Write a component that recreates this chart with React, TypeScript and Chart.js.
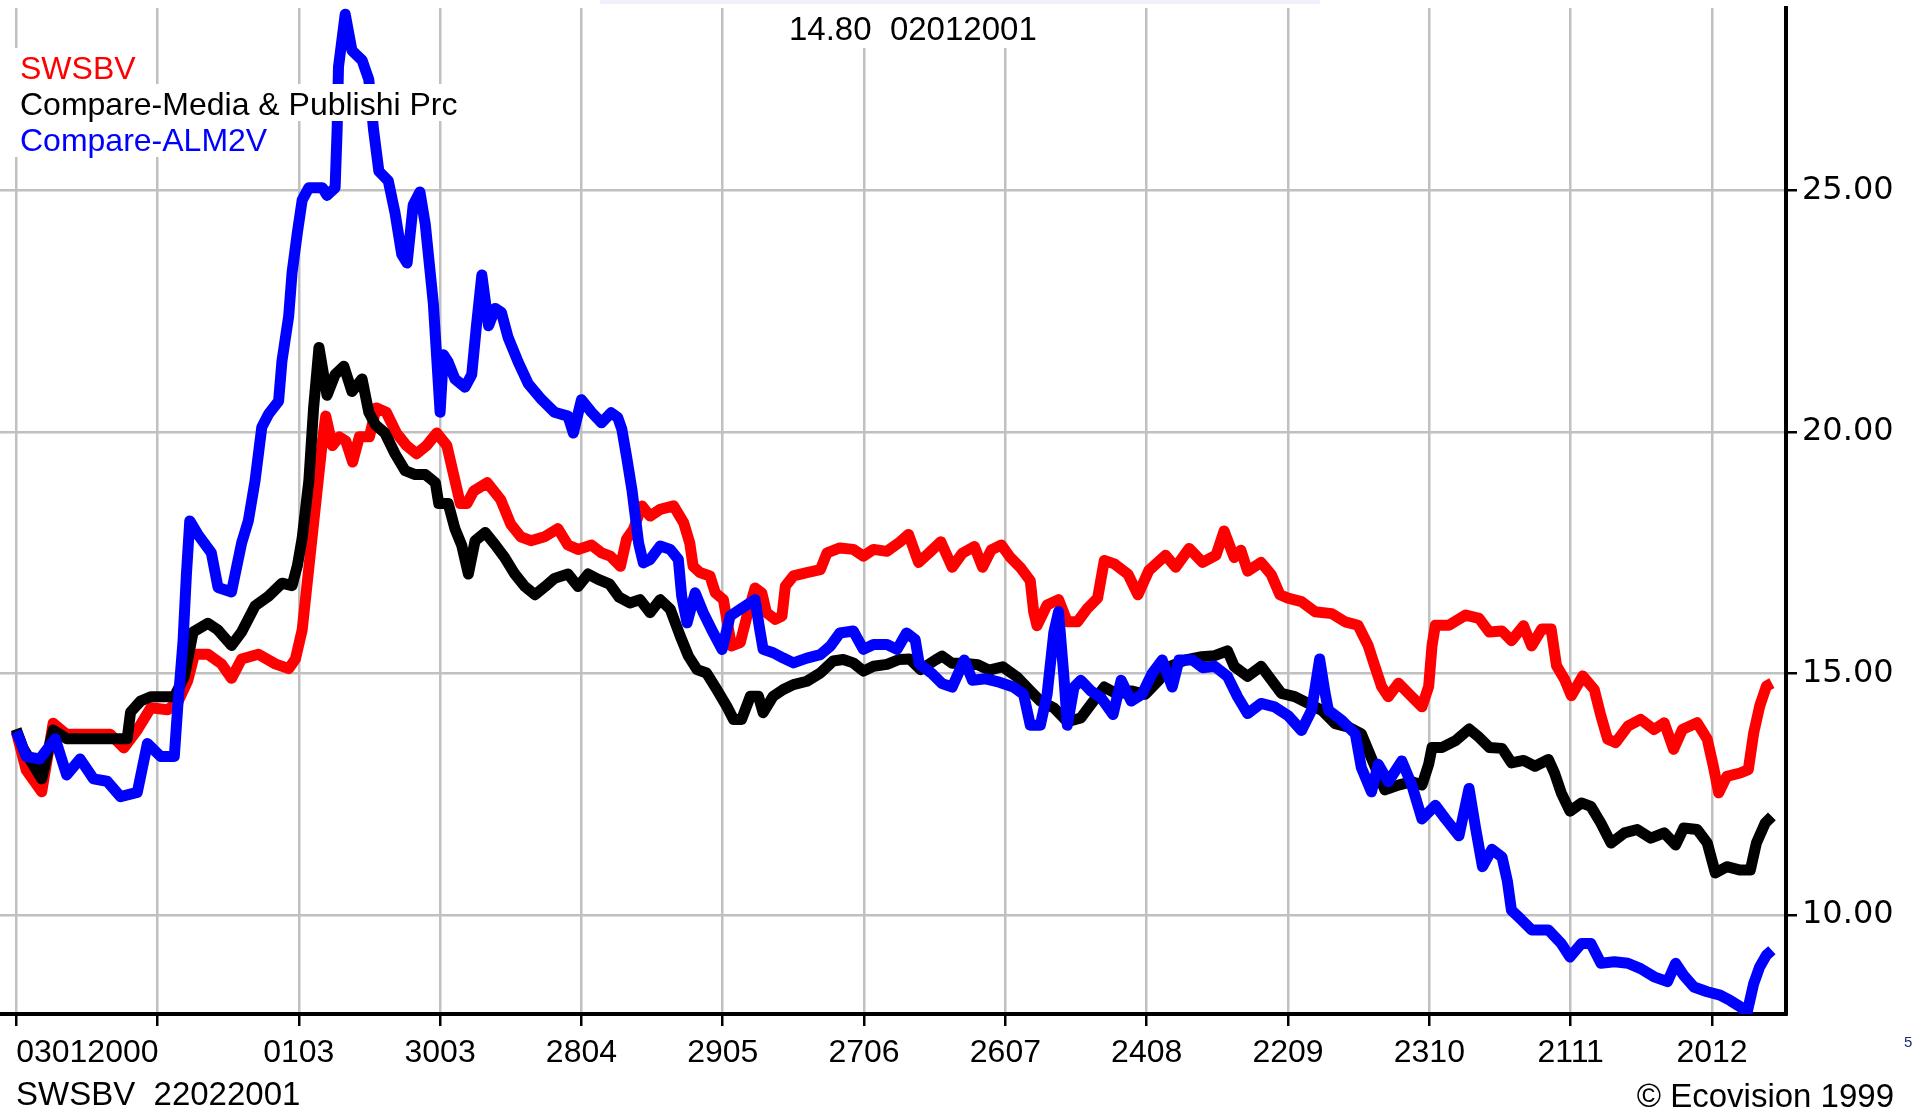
import React, { useEffect, useRef } from "react";
import { Chart, registerables } from "chart.js";

Chart.register(...registerables);

// ---------- data ----------
const tickDays = [0, 21, 42, 63, 84, 105, 126, 147, 168, 189, 210, 231, 252];
const tickLabels = ["03012000", "", "0103", "3003", "2804", "2905", "2706", "2607", "2408", "2209", "2310", "2111", "2012"];
const yTicks = [10, 15, 20, 25];
const seriesNames = ["SWSBV", "Compare-Media & Publishi Prc", "Compare-ALM2V"];
const titleText = "14.80  02012001";
const footerLeft = "SWSBV  22022001";
const footerRight = "\u00A9 Ecovision 1999";
const cornerMark = "5";

const redDays = [0, 1.5, 3.8, 5.5, 7.5, 10.5, 14, 16, 18, 20, 22.5, 24, 25.5, 26.5, 28.5, 30.5, 32, 33.5, 36, 38.5, 40.5, 41.5, 42.5, 43.5, 44.5, 45.5, 46, 47, 48, 49, 50, 51, 52.5, 53.5, 55, 56.5, 58, 59.5, 61, 62.5, 64, 65, 66, 67, 68, 70, 72, 73.5, 75, 76.5, 78.5, 80.5, 82, 83.5, 85.5, 87, 88.3, 89.8, 90.7, 91.7, 93, 94.2, 95.7, 97.7, 99.2, 100.1, 100.6, 101.6, 103.1, 103.9, 105.1, 105.6, 106.3, 107.6, 108.6, 109.8, 110.8, 111.5, 112.8, 113.8, 114.3, 115.5, 117.5, 119.5, 120.5, 122.4, 124.4, 125.9, 127.4, 129.4, 131.3, 132.6, 134.1, 135.6, 137.4, 139.1, 140.6, 142.4, 143.6, 144.9, 146.4, 147.7, 149.2, 150.7, 151.2, 151.7, 153.2, 154.9, 156.2, 157.7, 159.2, 160.7, 161.7, 163.2, 165.2, 166.7, 168.3, 170.8, 172.3, 174.3, 176.3, 178.3, 179.5, 181, 182, 183, 185, 186.5, 187.8, 189, 191, 193, 195.5, 197.5, 199.4, 200.9, 201.9, 202.9, 203.9, 205.4, 206.9, 208.9, 209.9, 210.4, 210.9, 212.9, 215.4, 217.4, 218.9, 220.8, 222.2, 224, 225.2, 226.7, 228.1, 228.9, 230.1, 231.1, 232.8, 234.5, 235.5, 236.5, 237.7, 239.5, 241.4, 243.4, 244.9, 246.3, 247.6, 249.8, 251.3, 252.2, 253, 254.2, 256.2, 257.4, 258.2, 259.1, 260.1, 260.9];
const redValues = [13.8, 13.0, 12.55, 13.97, 13.74, 13.74, 13.74, 13.46, 13.83, 14.29, 14.25, 14.4, 14.85, 15.4, 15.4, 15.2, 14.9, 15.3, 15.4, 15.2, 15.1, 15.3, 15.9, 17.2, 18.5, 19.8, 20.33, 19.72, 19.9, 19.81, 19.38, 19.9, 19.9, 20.5, 20.41, 19.98, 19.72, 19.55, 19.72, 19.98, 19.72, 19.12, 18.52, 18.52, 18.78, 18.95, 18.6, 18.09, 17.83, 17.75, 17.83, 18.0, 17.66, 17.57, 17.66, 17.5, 17.43, 17.22, 17.78, 17.98, 18.47, 18.26, 18.4, 18.47, 18.12, 17.7, 17.22, 17.09, 17.02, 16.67, 16.53, 16.12, 15.57, 15.64, 16.19, 16.77, 16.67, 16.26, 16.12, 16.19, 16.81, 17.02, 17.09, 17.15, 17.5, 17.6, 17.57, 17.43, 17.57, 17.53, 17.72, 17.88, 17.3, 17.49, 17.73, 17.2, 17.49, 17.63, 17.2, 17.56, 17.66, 17.41, 17.2, 16.92, 16.28, 15.99, 16.42, 16.53, 16.07, 16.07, 16.35, 16.56, 17.34, 17.27, 17.06, 16.63, 17.13, 17.45, 17.2, 17.59, 17.3, 17.45, 17.95, 17.4, 17.55, 17.12, 17.3, 17.05, 16.63, 16.56, 16.49, 16.28, 16.24, 16.07, 16.0, 15.58, 15.15, 14.73, 14.52, 14.8, 14.59, 14.31, 14.73, 15.58, 16.0, 16.0, 16.21, 16.14, 15.86, 15.88, 15.68, 15.99, 15.57, 15.92, 15.92, 15.16, 14.88, 14.54, 14.95, 14.67, 14.12, 13.64, 13.57, 13.91, 14.05, 13.84, 13.98, 13.43, 13.84, 13.98, 13.64, 13.08, 12.53, 12.87, 12.94, 13.01, 13.77, 14.33, 14.74, 14.8];

const blackDays = [0, 1, 3.8, 5.5, 7.5, 10.5, 13.5, 16.5, 17, 18.5, 20, 23.5, 25, 26.3, 28.5, 30, 32, 33.5, 35.5, 37.5, 39.5, 41, 41.8, 42.5, 43.5, 44.2, 45, 46.2, 47.4, 48.7, 49.9, 51.4, 52.4, 53.4, 54.8, 56.3, 57.8, 59.3, 60.8, 62.3, 62.8, 64.2, 65.2, 66.2, 67.2, 68.2, 69.7, 71.2, 72.6, 74.1, 75.6, 77.1, 78.6, 80, 82, 83.5, 85, 86.5, 88.2, 89.6, 91.2, 92.7, 94.2, 95.7, 97.2, 98.7, 99.9, 101.2, 102.6, 104.1, 105.6, 106.6, 107.8, 109.1, 110.3, 111, 112.5, 114, 115.5, 117.5, 119.5, 121.4, 122.9, 124.4, 125.9, 127.4, 129.4, 131.2, 132.8, 134.4, 136.6, 137.6, 139.1, 141.1, 142.9, 144.6, 146.6, 148.7, 150.7, 152.2, 154.2, 156.2, 158.2, 159.7, 161.7, 163.7, 165.7, 167.8, 169.8, 171.3, 173.8, 176.2, 178.1, 180, 181, 183, 185, 186.5, 188, 190, 192, 194, 196, 198, 199.9, 201.4, 203.4, 205.4, 207.4, 208.9, 209.9, 210.4, 211.9, 213.9, 215.9, 217.4, 218.9, 220.8, 222.2, 224, 225.7, 227.7, 228.6, 229.6, 230.9, 232.6, 234, 235.5, 237, 239, 240.9, 242.9, 244.9, 246.6, 247.8, 249.8, 251.3, 252.5, 254.2, 256.2, 257.7, 258.6, 259.9, 260.9];
const blackValues = [13.85, 13.46, 12.82, 13.83, 13.65, 13.65, 13.65, 13.65, 14.2, 14.43, 14.52, 14.52, 14.94, 15.86, 16.04, 15.9, 15.58, 15.86, 16.4, 16.6, 16.87, 16.82, 17.24, 17.8, 19.0, 20.5, 21.75, 20.76, 21.19, 21.36, 20.84, 21.1, 20.41, 20.15, 19.98, 19.55, 19.2, 19.12, 19.12, 18.95, 18.52, 18.52, 18.0, 17.66, 17.06, 17.75, 17.92, 17.66, 17.4, 17.06, 16.8, 16.63, 16.8, 16.97, 17.06, 16.8, 17.06, 16.95, 16.85, 16.58, 16.46, 16.53, 16.26, 16.53, 16.33, 15.77, 15.36, 15.08, 15.01, 14.67, 14.32, 14.05, 14.05, 14.53, 14.53, 14.19, 14.53, 14.67, 14.77, 14.84, 15.01, 15.26, 15.29, 15.22, 15.05, 15.15, 15.19, 15.29, 15.3, 15.08, 15.28, 15.36, 15.21, 15.21, 15.18, 15.07, 15.14, 14.93, 14.64, 14.43, 14.29, 14.0, 14.08, 14.36, 14.72, 14.57, 14.64, 14.57, 14.86, 15.14, 15.28, 15.35, 15.37, 15.47, 15.15, 14.94, 15.15, 14.87, 14.59, 14.52, 14.38, 14.24, 13.96, 13.89, 13.75, 13.25, 12.59, 12.69, 12.76, 12.69, 13.12, 13.47, 13.47, 13.61, 13.85, 13.68, 13.47, 13.45, 13.15, 13.2, 13.08, 13.22, 12.94, 12.53, 12.15, 12.32, 12.25, 11.9, 11.49, 11.7, 11.77, 11.59, 11.7, 11.45, 11.8, 11.77, 11.49, 10.87, 11.0, 10.93, 10.93, 11.49, 11.9, 12.04];

const blueDays = [0, 0.5, 1.5, 3.5, 5.8, 7.5, 9.5, 11.5, 13.5, 15.5, 18, 19.5, 21.5, 23.5, 24, 24.8, 25.3, 25.8, 27, 29, 30, 32, 33.5, 34.5, 35.5, 36.5, 37.5, 39, 39.5, 40.5, 41, 41.8, 42.5, 43.5, 45.5, 46.2, 47.4, 47.7, 47.9, 48.9, 49.9, 51.4, 52.4, 53.1, 53.9, 55.3, 56.3, 57.3, 58.1, 59, 60, 60.8, 61.5, 62, 62.5, 63, 63.5, 64.2, 65.2, 66.7, 67.7, 68.4, 69.2, 70.2, 71.2, 72.1, 73.1, 74.6, 76.1, 78.1, 80, 82, 82.8, 84, 85.5, 87, 88.4, 89.4, 90, 90.7, 91.5, 92, 92.5, 93.2, 94.2, 95.7, 97.2, 98.4, 98.9, 99.7, 100.9, 102.1, 103.6, 104.9, 106.1, 107.6, 109.8, 110.5, 111, 112.5, 114, 115.5, 117.5, 119.5, 121, 122.4, 124.4, 125.9, 127.4, 129.4, 130.9, 132.3, 133.6, 134.2, 136.1, 137.6, 139.1, 140.9, 142.1, 144.1, 146.1, 148.2, 149.7, 150.7, 152.2, 153.2, 154.2, 154.9, 155.7, 156.2, 157.2, 158.2, 159.7, 161.2, 163, 164.2, 165.7, 167.3, 168.8, 170.3, 171.8, 172.8, 174.8, 176.3, 178.1, 180, 181.5, 183, 185, 187, 189, 191, 192.5, 193.7, 194.5, 195, 197, 199, 199.9, 201.4, 202.4, 203.9, 205.9, 207.4, 208.9, 210.9, 212.4, 214.4, 215.9, 216.9, 217.9, 219.3, 220.8, 221.6, 222.2, 223.7, 225.2, 227.7, 229.6, 230.9, 232.6, 234, 235.5, 237.5, 239.5, 241.4, 243.4, 245.4, 246.6, 247.8, 249.3, 251.3, 253.2, 254.7, 256.2, 257.2, 258.2, 259.1, 260.1, 260.9];
const blueValues = [13.8, 13.65, 13.28, 13.23, 13.65, 12.9, 13.23, 12.82, 12.77, 12.45, 12.54, 13.55, 13.28, 13.28, 14.29, 15.67, 17.05, 18.16, 17.88, 17.5, 16.78, 16.69, 17.7, 18.16, 18.99, 20.1, 20.37, 20.64, 21.47, 22.4, 23.3, 24.14, 24.8, 25.06, 25.06, 24.9, 25.06, 26.27, 27.56, 28.65, 27.9, 27.7, 27.3, 26.27, 25.4, 25.2, 24.54, 23.68, 23.5, 24.7, 24.97, 24.3, 23.34, 22.65, 21.53, 20.41, 21.6, 21.45, 21.1, 20.93, 21.19, 22.2, 23.25, 22.2, 22.56, 22.48, 21.96, 21.45, 21.0, 20.67, 20.41, 20.33, 19.98, 20.67, 20.41, 20.19, 20.4, 20.3, 20.06, 19.5, 18.81, 18.26, 17.7, 17.29, 17.36, 17.64, 17.57, 17.36, 16.6, 16.05, 16.67, 16.26, 15.84, 15.5, 16.19, 16.33, 16.53, 15.91, 15.5, 15.43, 15.32, 15.22, 15.32, 15.39, 15.57, 15.84, 15.88, 15.5, 15.6, 15.6, 15.5, 15.84, 15.7, 15.2, 15.0, 14.79, 14.72, 15.28, 14.86, 14.89, 14.82, 14.72, 14.57, 13.93, 13.93, 14.57, 15.85, 16.28, 14.93, 13.93, 14.72, 14.86, 14.64, 14.5, 14.15, 14.86, 14.43, 14.57, 15.0, 15.28, 14.72, 15.28, 15.28, 15.12, 15.15, 14.94, 14.52, 14.17, 14.38, 14.31, 14.13, 13.82, 14.24, 15.3, 14.6, 14.24, 14.03, 13.75, 13.05, 12.55, 13.12, 12.76, 13.19, 12.69, 11.99, 12.27, 11.99, 11.64, 12.62, 11.78, 11.0, 11.36, 11.2, 10.7, 10.1, 9.9, 9.69, 9.69, 9.41, 9.13, 9.41, 9.41, 9.0, 9.03, 9.0, 8.89, 8.72, 8.62, 9.0, 8.75, 8.51, 8.41, 8.34, 8.23, 8.1, 7.97, 8.58, 8.93, 9.17, 9.27];

const X_MIN = -2.4;
const X_MAX = 263;
const Y_MIN = 7.95;
const Y_MAX = 28.78;

const RED = "#ff0000";
const BLACK = "#000000";
const BLUE = "#0000ff";
const GRID = "#c0c0c0";
const FONT = '"Liberation Sans", Arial, sans-serif';
const WIDE_FONT = '"DejaVu Sans", "Liberation Sans", sans-serif';

function zip(xs: number[], ys: number[]) {
  return xs.map((x, i) => ({ x, y: ys[i] }));
}

const overlayPlugin = {
  id: "overlay",
  afterDraw(chart: any) {
    const ctx = chart.ctx as CanvasRenderingContext2D;
    ctx.save();

    // legend rows with white boxes
    ctx.font = `32px ${FONT}`;
    ctx.textBaseline = "alphabetic";
    ctx.textAlign = "left";
    const colors = [RED, BLACK, BLUE];
    const baselines = [79, 115, 151];
    seriesNames.forEach((name, i) => {
      const w = ctx.measureText(name).width;
      ctx.fillStyle = "#ffffff";
      ctx.fillRect(12, baselines[i] - 31, w + 16, 37);
    });
    seriesNames.forEach((name, i) => {
      ctx.fillStyle = colors[i];
      ctx.fillText(name, 20, baselines[i]);
    });

    // title
    ctx.font = `33px ${FONT}`;
    const tw = ctx.measureText(titleText).width;
    ctx.fillStyle = "#ffffff";
    ctx.fillRect(772, 0, tw + 30, 48);
    ctx.fillStyle = BLACK;
    ctx.fillText(titleText, 789, 40);

    // faint band at the very top
    ctx.fillStyle = "rgba(225,225,248,0.5)";
    ctx.fillRect(600, 0, 720, 4);

    // footer
    ctx.fillStyle = BLACK;
    ctx.fillText(footerLeft, 16, 1105);
    ctx.textAlign = "right";
    ctx.fillText(footerRight, 1894, 1107);

    ctx.font = `15px ${FONT}`;
    ctx.textAlign = "left";
    ctx.fillStyle = "#1c2c6c";
    ctx.fillText(cornerMark, 1904, 1047);
    ctx.restore();
  },
};

export default function App() {
  const canvasRef = useRef<HTMLCanvasElement | null>(null);

  useEffect(() => {
    if (!canvasRef.current) return;
    const chart = new Chart(canvasRef.current, {
      type: "line",
      data: {
        datasets: [
          { label: seriesNames[2], data: zip(blueDays, blueValues), borderColor: BLUE, backgroundColor: BLUE },
          { label: seriesNames[1], data: zip(blackDays, blackValues), borderColor: BLACK, backgroundColor: BLACK },
          { label: seriesNames[0], data: zip(redDays, redValues), borderColor: RED, backgroundColor: RED },
        ],
      },
      options: {
        animation: false,
        responsive: true,
        maintainAspectRatio: false,
        layout: { padding: { top: 8, left: 0, right: 0, bottom: 0 } },
        plugins: {
          legend: { display: false },
          title: { display: false },
          tooltip: { enabled: false },
        },
        elements: {
          point: { radius: 0, hoverRadius: 0 },
          line: { tension: 0, borderWidth: 11, borderJoinStyle: "round", borderCapStyle: "butt", fill: false },
        },
        scales: {
          x: {
            type: "linear",
            min: X_MIN,
            max: X_MAX,
            afterBuildTicks: (s: any) => {
              s.ticks = [...tickDays.map((v) => ({ value: v })), { value: X_MAX }];
            },
            afterFit: (s: any) => {
              s.height = 100;
              s.paddingLeft = 0;
              s.paddingRight = 0;
            },
            grid: {
              color: (c: any) => (c.index >= tickDays.length ? "rgba(0,0,0,0)" : GRID),
              lineWidth: 2.5,
              drawTicks: true,
              tickLength: 12,
              tickColor: (c: any) => (c.index >= tickDays.length ? "rgba(0,0,0,0)" : BLACK),
              tickWidth: 2.5,
            },
            border: { display: true, color: BLACK, width: 4 },
            ticks: {
              autoSkip: false,
              maxRotation: 0,
              minRotation: 0,
              align: "inner",
              padding: 8,
              color: BLACK,
              font: { family: FONT, size: 32 },
              callback: (_v: any, i: number) => tickLabels[i] ?? "",
            },
          },
          y: {
            type: "linear",
            position: "right",
            min: Y_MIN,
            max: Y_MAX,
            afterBuildTicks: (s: any) => {
              s.ticks = yTicks.map((v) => ({ value: v }));
            },
            afterFit: (s: any) => {
              s.width = 137;
              s.paddingTop = 0;
              s.paddingBottom = 0;
            },
            grid: {
              color: GRID,
              lineWidth: 2.5,
              drawTicks: true,
              tickLength: 11,
              tickColor: BLACK,
              tickWidth: 2.5,
            },
            border: { display: true, color: BLACK, width: 4 },
            ticks: {
              padding: 5,
              color: BLACK,
              font: { family: WIDE_FONT, size: 32 },
              callback: (v: any) => Number(v).toFixed(2),
            },
          },
        },
      } as any,
      plugins: [overlayPlugin],
    });
    return () => chart.destroy();
  }, []);

  return (
    <div
      style={{
        position: "fixed",
        left: 0,
        top: 0,
        width: "1923px",
        height: "1114px",
        background: "#ffffff",
      }}
    >
      <canvas ref={canvasRef} />
    </div>
  );
}
